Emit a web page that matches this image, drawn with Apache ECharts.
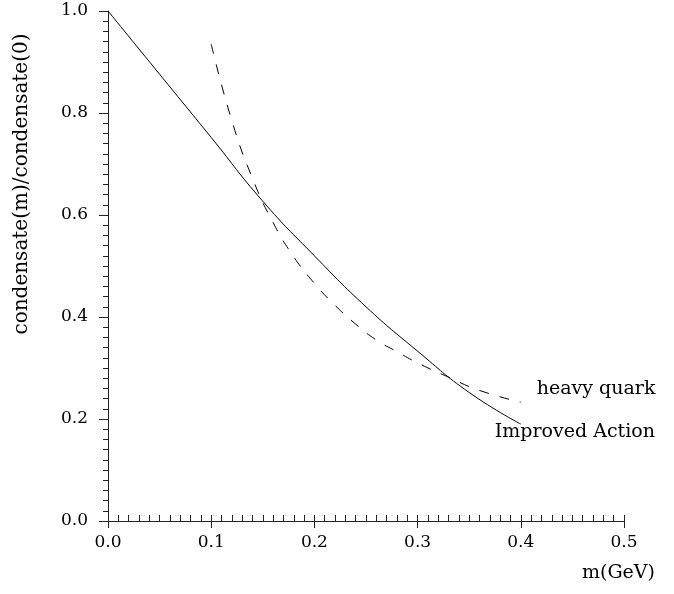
<!DOCTYPE html>
<html>
<head>
<meta charset="utf-8">
<script src="https://cdn.jsdelivr.net/npm/echarts@6/dist/echarts.min.js"></script>
<style>
  html, body { margin: 0; padding: 0; background: #fff; }
  #chart { width: 674px; height: 594px; }
</style>
</head>
<body>
<div id="chart"></div>
<script>
// 数据
var massImproved = [0, 0.05, 0.1, 0.15, 0.2, 0.25, 0.3, 0.35, 0.4];
var improvedAction = [1.0, 0.876, 0.752, 0.627, 0.52, 0.42, 0.333, 0.252, 0.19];

var massHeavy = [0.1, 0.12, 0.14, 0.16, 0.18, 0.2, 0.22, 0.24, 0.26, 0.28, 0.3, 0.33, 0.36, 0.4];
var heavyQuark = [0.935, 0.785, 0.672, 0.585, 0.518, 0.466, 0.423, 0.386, 0.355, 0.332, 0.31, 0.282, 0.256, 0.233];

var xTicks = ['0.0', '0.1', '0.2', '0.3', '0.4', '0.5'];
var yTicks = ['0.0', '0.2', '0.4', '0.6', '0.8', '1.0'];

function pairs(xs, ys) {
  var out = [];
  for (var i = 0; i < xs.length; i++) {
    out.push([xs[i], ys[i]]);
  }
  return out;
}

var font = 'DejaVu Serif';
var chart = echarts.init(document.getElementById('chart'));

var option = {
  backgroundColor: '#fff',
  animation: false,
  grid: {
    left: 108,
    right: 50,
    top: 11,
    bottom: 73
  },
  graphic: [{
    // y轴标题
    type: 'text',
    x: 22,
    y: 184,
    rotation: Math.PI / 2,
    style: {
      text: 'condensate(m)/condensate(0)',
      font: '20px "DejaVu Serif"',
      fill: '#000',
      align: 'center',
      verticalAlign: 'middle'
    }
  }],
  xAxis: [{
    type: 'value',
    min: 0,
    max: 0.5,
    interval: 0.1,
    name: 'm(GeV)',
    nameLocation: 'end',
    nameGap: -42,
    nameTextStyle: {
      fontFamily: font,
      fontSize: 19,
      color: '#000',
      align: 'left',
      verticalAlign: 'top',
      padding: [43, 0, 0, 0]
    },
    axisLine: { lineStyle: { color: '#222', width: 1 } },
    axisTick: { inside: true, length: 6, lineStyle: { color: '#222' } },
    minorTick: { show: true, splitNumber: 10, length: 6, lineStyle: { color: '#222' } },
    splitLine: { show: false },
    axisLabel: {
      margin: 13,
      fontFamily: font,
      fontSize: 17,
      color: '#000',
      formatter: function (v) { return xTicks[Math.round(v * 10)]; }
    }
  }, {
    // 主刻度向下的短线
    type: 'value',
    position: 'bottom',
    min: 0,
    max: 0.5,
    interval: 0.1,
    axisLine: { show: false },
    axisTick: { length: 7, lineStyle: { color: '#222' } },
    axisLabel: { show: false },
    splitLine: { show: false }
  }],
  yAxis: {
    type: 'value',
    min: 0,
    max: 1,
    interval: 0.2,
    axisLine: { show: true, lineStyle: { color: '#222', width: 1 } },
    axisTick: { show: true, length: 9, lineStyle: { color: '#222' } },
    minorTick: { show: true, splitNumber: 10, length: 5, lineStyle: { color: '#222' } },
    splitLine: { show: false },
    axisLabel: {
      margin: 20,
      fontFamily: font,
      fontSize: 17,
      color: '#000',
      formatter: function (v) { return yTicks[Math.round(v * 5)]; }
    }
  },
  series: [{
    name: 'Improved Action',
    type: 'line',
    smooth: true,
    showSymbol: false,
    data: pairs(massImproved, improvedAction),
    lineStyle: { color: '#000', width: 1 },
    endLabel: {
      show: true,
      formatter: 'Improved Action',
      fontFamily: font,
      fontSize: 19,
      color: '#000',
      offset: [-34, 8]
    }
  }, {
    name: 'heavy quark',
    type: 'line',
    smooth: true,
    showSymbol: false,
    data: pairs(massHeavy, heavyQuark),
    lineStyle: { color: '#000', width: 1, type: [10, 11] },
    endLabel: {
      show: true,
      formatter: 'heavy quark',
      fontFamily: font,
      fontSize: 19,
      color: '#000',
      offset: [8, -13]
    }
  }]
};

chart.setOption(option);
</script>
</body>
</html>
